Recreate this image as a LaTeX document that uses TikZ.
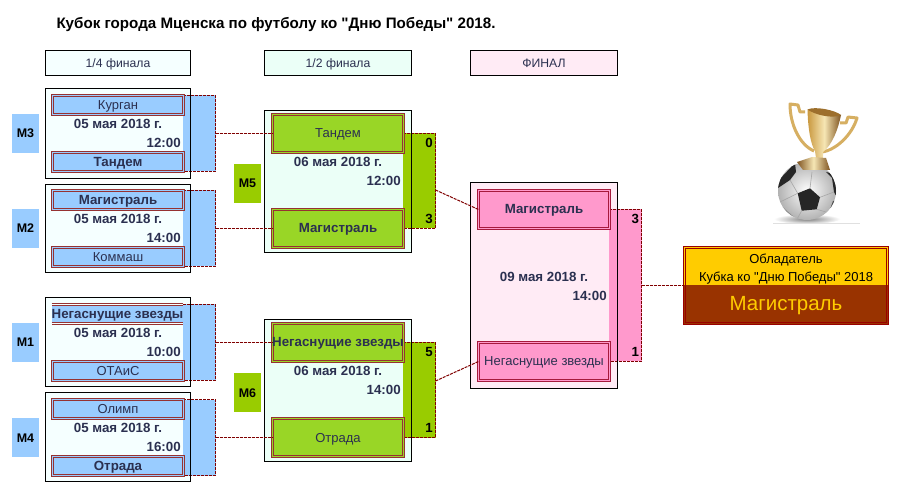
\documentclass[tikz,border=0pt]{standalone}
\usepackage{fontspec}
\setmainfont{Liberation Sans}
\newfontfamily\straightfont{Liberation Sans}
\usepackage{xcolor}
\usepackage{tikz}
\usetikzlibrary{positioning}
\definecolor{quarterblue}{HTML}{99CCFF}
\definecolor{semigreen}{HTML}{99CC00}
\definecolor{teamgreen}{HTML}{99D626}
\definecolor{finalpink}{HTML}{FF99CC}
\definecolor{quarterpale}{HTML}{F5FFFF}
\definecolor{semipale}{HTML}{EBFFF7}
\definecolor{finalpale}{HTML}{FFEBF5}
\definecolor{stubred}{HTML}{800000}
\definecolor{framered}{HTML}{963232}
\definecolor{finalred}{HTML}{A6193C}
\definecolor{winnerred}{HTML}{990000}
\definecolor{winnergold}{HTML}{FFCC00}
\definecolor{winnerbrown}{HTML}{993300}
\definecolor{inkblue}{HTML}{2B3050}
\definecolor{cupgold}{HTML}{C9983F}
\definecolor{cuplight}{HTML}{F6E6B4}
\definecolor{cupdark}{HTML}{7F5420}
\begin{document}
\begin{tikzpicture}[x=1pt, y=-1pt,
    every node/.style={inner sep=0pt, outer sep=0pt, text height=9pt, text depth=0pt, font=\fontsize{13}{15}\selectfont},
    header/.style={draw=black, line width=1pt, minimum height=25pt, text=inkblue, font=\fontsize{12.2}{14}\selectfont},
    matchbox/.style={draw=black, line width=1pt},
    boldname/.style={font=\fontsize{13.3}{15}\selectfont\bfseries},
    tag/.style={minimum width=27pt, minimum height=39pt, font=\fontsize{12.5}{14}\selectfont\bfseries},
    panel/.style={minimum height=#1},
    stub/.style={draw=stubred, line width=1pt, dash pattern=on 3pt off 1pt},
    team/.style={draw=framered, line width=1pt, double, double distance=1pt, minimum width=131pt, text=inkblue},
    quarterteam/.style={team, double=quarterblue, fill=quarterblue, minimum height=19pt},
    semiteam/.style={team, double=teamgreen, fill=teamgreen, minimum height=38pt},
    finalteam/.style={team, draw=finalred, double=finalpink, fill=finalpink, minimum height=38pt},
    date/.style={boldname, text=inkblue},
    clock/.style={date, anchor=east},
    score/.style={boldname, text=black, anchor=east},
    winnerframe/.style={draw=winnerred, line width=1pt}]
    \useasboundingbox (0,0) rectangle (900,494);
    \fill[white] (0,0) rectangle (900,494);

    \node[anchor=west, font=\straightfont\fontsize{15.15}{17}\selectfont\bfseries] (title) at (56.5,24) {Кубок города Мценска по футболу ко "Дню Победы" 2018.};

    \node[header, fill=quarterpale, minimum width=145pt] (quarterhead) at (118,63) {1/4 финала};
    \node[header, fill=semipale, minimum width=147pt] (semihead) at (338,63) {1/2 финала};
    \node[header, fill=finalpale, minimum width=147pt] (finalhead) at (544,63) {ФИНАЛ};

    % 1/4 финала, верх
    \node[matchbox, fill=quarterpale, minimum width=145pt, minimum height=90pt] (mthree) at (118,133.5) {};
    \node[tag, fill=quarterblue, left=6.5pt of mthree] (tagthree) {М3};
    \node[panel=76pt, fill=quarterblue, minimum width=32.5pt] (panelthree) at (199.25,133.5) {};
    \draw[stub] (panelthree.north west) -- (panelthree.north east) -- (panelthree.south east) -- (panelthree.south west);
    \draw[line width=1pt] (mthree.north east) -- (mthree.south east);
    \node[quarterteam] (kurgan) at (118,105) {Курган};
    \node[quarterteam, boldname] (tandemq) at (118,162) {Тандем};
    \node[date] (datethree) at (118,124) {05 мая 2018 г.};
    \node[clock] (timethree) at (180.7,143.3) {12:00};

    \node[matchbox, fill=quarterpale, minimum width=145pt, minimum height=88pt] (mtwo) at (118,228.5) {};
    \node[tag, fill=quarterblue, left=6.5pt of mtwo] (tagtwo) {М2};
    \node[panel=76pt, fill=quarterblue, minimum width=32.5pt] (paneltwo) at (199.25,228.5) {};
    \draw[stub] (paneltwo.north west) -- (paneltwo.north east) -- (paneltwo.south east) -- (paneltwo.south west);
    \draw[line width=1pt] (mtwo.north east) -- (mtwo.south east);
    \node[quarterteam, boldname] (magistralq) at (118,200) {Магистраль};
    \node[quarterteam] (kommash) at (118,257) {Коммаш};
    \node[date] (datetwo) at (118,219) {05 мая 2018 г.};
    \node[clock] (timetwo) at (180.7,238.3) {14:00};

    % 1/4 финала, низ
    \node[matchbox, fill=quarterpale, minimum width=145pt, minimum height=89pt] (mone) at (118,342) {};
    \node[tag, fill=quarterblue, left=6.5pt of mone, yshift=-.5pt] (tagone) {М1};
    \node[panel=76pt, fill=quarterblue, minimum width=32.5pt] (panelone) at (199.25,342.5) {};
    \draw[stub] (panelone.north west) -- (panelone.north east) -- (panelone.south east) -- (panelone.south west);
    \draw[line width=1pt] (mone.north east) -- (mone.south east);
    \node[fill=quarterblue, minimum width=131pt, minimum height=19pt, text=inkblue, boldname] (negasq) at (117.5,314) {Негаснущие звезды};
    \draw[framered, line width=1pt, double=quarterpale, double distance=1pt] (negasq.north west) -- (negasq.north east);
    \draw[framered, line width=1pt, double=quarterpale, double distance=1pt] (negasq.south west) -- (negasq.south east);
    \node[quarterteam] (otais) at (118,371) {ОТАиС};
    \node[date] (dateone) at (118,333.3) {05 мая 2018 г.};
    \node[clock] (timeone) at (180.7,352.3) {10:00};

    \node[matchbox, fill=quarterpale, minimum width=145pt, minimum height=89pt] (mfour) at (118,437) {};
    \node[tag, fill=quarterblue, left=6.5pt of mfour, yshift=-.5pt] (tagfour) {М4};
    \node[panel=76pt, fill=quarterblue, minimum width=32.5pt] (panelfour) at (199.25,437.5) {};
    \draw[stub] (panelfour.north west) -- (panelfour.north east) -- (panelfour.south east) -- (panelfour.south west);
    \draw[line width=1pt] (mfour.north east) -- (mfour.south east);
    \node[quarterteam] (olimp) at (118,409) {Олимп};
    \node[quarterteam, boldname] (otradaq) at (118,466) {Отрада};
    \node[date] (datefour) at (118,428) {05 мая 2018 г.};
    \node[clock] (timefour) at (180.7,447.3) {16:00};

    % 1/2 финала
    \node[matchbox, fill=semipale, minimum width=147pt, minimum height=142pt] (mfive) at (338,181.5) {};
    \node[tag, fill=semigreen, left=3.5pt of mfive, yshift=-2pt] (tagfive) {М5};
    \node[panel=95pt, fill=semigreen, minimum width=32.5pt] (panelfive) at (419.25,181) {};
    \draw[stub] (panelfive.north west) -- (panelfive.north east) -- (panelfive.south east) -- (panelfive.south west);
    \draw[line width=1pt] (mfive.north east) -- (mfive.south east);
    \node[semiteam] (tandems) at (338,133.5) {Тандем};
    \node[semiteam, boldname] (magistrals) at (338,228.5) {Магистраль};
    \node[date] (datefive) at (338,162) {06 мая 2018 г.};
    \node[clock] (timefive) at (400.7,181) {12:00};
    \node[score] (scorezero) at (432.7,143) {0};
    \node[score] (scorethree) at (432.7,219.3) {3};

    \node[matchbox, fill=semipale, minimum width=147pt, minimum height=142pt] (msix) at (338,390.5) {};
    \node[tag, fill=semigreen, left=3.5pt of msix, yshift=-2pt] (tagsix) {М6};
    \node[panel=95pt, fill=semigreen, minimum width=32.5pt] (panelsix) at (419.25,390) {};
    \draw[stub] (panelsix.north west) -- (panelsix.north east) -- (panelsix.south east) -- (panelsix.south west);
    \draw[line width=1pt] (msix.north east) -- (msix.south east);
    \node[semiteam, boldname] (negass) at (338,342.5) {Негаснущие звезды};
    \node[semiteam] (otradas) at (338,437.5) {Отрада};
    \node[date] (datesix) at (338,371.3) {06 мая 2018 г.};
    \node[clock] (timesix) at (400.7,390) {14:00};
    \node[score] (scorefive) at (432.7,352) {5};
    \node[score] (scoreone) at (432.7,428) {1};

    % финал
    \node[matchbox, fill=finalpale, minimum width=147pt, minimum height=206pt] (mfinal) at (544,285.5) {};
    \node[panel=152pt, fill=finalpink, minimum width=32.5pt] (panelfinal) at (625.25,285.5) {};
    \draw[stub] (panelfinal.north west) -- (panelfinal.north east) -- (panelfinal.south east) -- (panelfinal.south west);
    \draw[line width=1pt] (mfinal.north east) -- (mfinal.south east);
    \node[finalteam, boldname] (magistralf) at (544,209.5) {Магистраль};
    \node[finalteam] (negasf) at (544,361.5) {Негаснущие звезды};
    \node[date] (datefinal) at (544,277.3) {09 мая 2018 г.};
    \node[clock] (timefinal) at (606.7,295.7) {14:00};
    \node[score] (scorefinala) at (639,219.3) {3};
    \node[score] (scorefinalb) at (639,352.3) {1};

    % обладатель
    \node[fill=winnergold, minimum width=205pt, minimum height=38.5pt] (winnertop) at (786,265.75) {};
    \node[fill=winnerbrown, minimum width=205pt, minimum height=39.5pt] (winnerbottom) at (786,304.75) {};
    \node[winnerframe, minimum width=205pt, minimum height=78pt] (winner) at (786,285.5) {};
    \node[winnerframe, minimum width=201pt, minimum height=74pt] (winnerin) at (786,285.5) {};
    \node[text=black] (winnerlinea) at (786,259.3) {Обладатель};
    \node[text=black, font=\straightfont\fontsize{13}{15}\selectfont] (winnerlineb) at (786,276.7) {Кубка ко "Дню Победы" 2018};
    \node[text=winnergold, text height=14pt, font=\fontsize{20.5}{24}\selectfont] (winnername) at (786,304) {Магистраль};

    % линии между матчами
    \path[stub] (panelthree.east) edge (tandems.west);
    \path[stub] (paneltwo.east) edge (magistrals.west);
    \path[stub] (panelone.east) edge (negass.west);
    \path[stub] (panelfour.east) edge (otradas.west);
    \path[stub] ([yshift=-9pt]panelfive.east) edge (magistralf.west);
    \path[stub] ([yshift=9pt]panelsix.east) edge (negasf.west);
    \path[stub] (panelfinal.east) edge (winner.west);

    % кубок и мяч
    \shade[inner color=black!50, outer color=white] (807,219) ellipse (33 and 5);
    \draw[black!12, line width=1pt] (773,224) -- (860,224);
    \shade[inner color=white, middle color=white, outer color=black!30] (807,191) circle (29);
    \begin{scope}
        \clip (807,191) circle (29);
        \fill[black!85] (797.7,193.3) -- (810,188.3) -- (820,197.3) -- (816.7,209.3) -- (801.7,210.7) -- cycle;
        \fill[black!85] (795,163) -- (779,180) -- (778,188) -- (790,180) -- (796,172) -- cycle;
        \fill[black!85] (826,172) -- (838,175) -- (838,200) -- (834,192) -- (832,178) -- cycle;
        \fill[black!70] (838,200) -- (833,201) -- (829,212) -- (836,212) -- cycle;
        \fill[black!45] (778,203) -- (794,217) -- (780,217) -- cycle;
        \draw[black!35, line width=.6pt] (797.7,193.3) -- (790,180) (810,188.3) -- (812,172) (820,197.3) -- (834,192) (816.7,209.3) -- (826,212) (801.7,210.7) -- (796,221) (797.7,193.3) -- (778,203);
    \end{scope}
    \draw[cupgold!70!cuplight, line width=3pt, line join=round] (805,112) -- (800,112) -- (798,105) -- (790,104) .. controls (790,125) and (800,145) .. (814,151);
    \draw[cupgold!70!cuplight, line width=3pt, line join=round] (840,123) -- (846,123) -- (848,117) -- (857,118) .. controls (852,135) and (836,150) .. (822,152);
    \shade[left color=cupgold, right color=cupdark, middle color=cuplight] (807.5,109.5) .. controls (808,130) and (811,145) .. (815,151) -- (816,158) -- (823,158) -- (823,152) .. controls (832,145) and (838,130) .. (841,115) -- cycle;
    \fill[cupdark!60!cupgold] (807.5,109.5) .. controls (815,115) and (833,119) .. (841,115) .. controls (835,110) and (815,106) .. (807.5,109.5) -- cycle;
    \shade[left color=cupdark, right color=cupdark, middle color=cuplight] (797,162) -- (812,157) -- (826,158) -- (830,170) -- (803,170) -- cycle;
\end{tikzpicture}
\end{document}
